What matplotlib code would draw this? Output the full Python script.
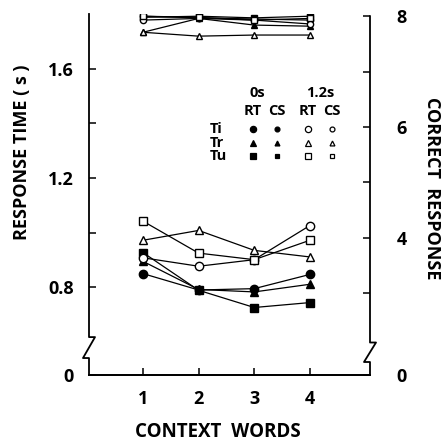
import matplotlib.pyplot as plt
import numpy as np

plt.rcParams['font.family'] = ['Open Sans', 'DejaVu Sans']
plt.rcParams['font.weight'] = 'bold'

# context words on the x axis
words = [1, 2, 3, 4]

# response time (s), left axis
rt_ti_0 = [0.85, 0.79, 0.795, 0.847]
rt_tr_0 = [0.895, 0.792, 0.783, 0.811]
rt_tu_0 = [0.927, 0.789, 0.726, 0.744]
rt_ti_12 = [0.908, 0.877, 0.901, 1.026]
rt_tr_12 = [0.972, 1.008, 0.935, 0.911]
rt_tu_12 = [1.042, 0.925, 0.901, 0.972]

# correct responses, right axis
cs_ti_0 = [8.0, 7.97, 7.95, 7.93]
cs_tr_0 = [7.71, 7.96, 7.84, 7.82]
cs_tu_0 = [7.98, 8.0, 7.97, 8.0]
cs_ti_12 = [7.93, 7.96, 7.93, 7.86]
cs_tr_12 = [7.71, 7.64, 7.66, 7.66]
cs_tu_12 = [8.0, 7.98, 7.93, 7.96]

W, H = 448, 445
fig = plt.figure(figsize=(W / 100, H / 100), dpi=100)
ax = fig.add_axes([89 / W, 1 - 375 / H, 281 / W, 361 / H])
ax2 = ax.twinx()

rt_series = [(rt_ti_0, 'o', 'k'), (rt_tr_0, '^', 'k'), (rt_tu_0, 's', 'k'),
             (rt_ti_12, 'o', 'w'), (rt_tr_12, '^', 'w'), (rt_tu_12, 's', 'w')]
cs_series = [(cs_ti_0, 'o', 'k'), (cs_tr_0, '^', 'k'), (cs_tu_0, 's', 'k'),
             (cs_ti_12, 'o', 'w'), (cs_tr_12, '^', 'w'), (cs_tu_12, 's', 'w')]

for vals, m, fc in rt_series:
    ax.plot(words, vals, color='k', lw=0.9, marker=m, ms=6, mfc=fc, mec='k', mew=1)
for vals, m, fc in cs_series:
    ax2.plot(words, vals, color='k', lw=0.9, marker=m, ms=4.5, mfc=fc, mec='k', mew=1)

ax.set_xlim(0.03, 5.08)
ax.set_ylim(0.479, 1.8)
ax2.set_ylim(1.52, 8.04)

ax.set_xticks(words)
ax.set_yticks([0.479, 0.8, 1.0, 1.2, 1.4, 1.6])
ax.set_yticklabels(['0', '0.8', '', '1.2', '', '1.6'])
ax2.set_yticks([1.52, 3, 4, 5, 6, 7, 8])
ax2.set_yticklabels(['0', '', '4', '', '6', '', '8'])

ax.tick_params(axis='both', direction='in', length=5, width=1.1, labelsize=13)
ax.tick_params(axis='y', pad=11)
ax.tick_params(axis='x', pad=11)
ax2.tick_params(axis='y', direction='in', length=5, width=1.1, labelsize=13, pad=19)

for a in (ax, ax2):
    for s in ('top', 'left', 'right'):
        a.spines[s].set_visible(False)
    a.spines['bottom'].set_linewidth(1.3)

# broken side axes drawn by hand
dx = 6 / 281
def side(x0, y_top, y_lo, y_hi, sgn):
    ax.plot([x0, x0, x0 + sgn * dx, x0 - sgn * dx, x0, x0],
            [y_top, y_hi, y_hi, y_lo, y_lo, 0],
            transform=ax.transAxes, color='k', lw=1.3, clip_on=False)

side(0, 1.0, 0.047, 0.105, 1)
side(1, 0.994, 0.036, 0.09, 1)

fig.text(22 / W, 1 - 152 / H, 'RESPONSE TIME ( s )', rotation=90,
         ha='center', va='center', fontsize=13, fontweight='bold')
fig.text(432 / W, 1 - 188 / H, 'CORRECT  RESPONSE', rotation=-90,
         ha='center', va='center', fontsize=13, fontweight='bold')
fig.text(218 / W, 1 - 432 / H, 'CONTEXT  WORDS', ha='center', va='center',
         fontsize=13.5, fontweight='bold')

# key
fs = 10.5
fig.text(257 / W, 1 - 93 / H, '0s', ha='center', va='center', fontsize=fs, fontweight='bold')
fig.text(320 / W, 1 - 93 / H, '1.2s', ha='center', va='center', fontsize=fs, fontweight='bold')
cols = [253, 277, 308, 332]
for x, t in zip(cols, ['RT', 'CS', 'RT', 'CS']):
    fig.text(x / W, 1 - 111 / H, t, ha='center', va='center', fontsize=fs, fontweight='bold')
rows = [('Ti', 'o', 129), ('Tr', '^', 143), ('Tu', 's', 156)]
for name, m, y in rows:
    fig.text(210 / W, 1 - y / H, name, ha='left', va='center', fontsize=fs, fontweight='bold')
    for x, fc, ms in zip(cols, ['k', 'k', 'w', 'w'], [4.5, 3.5, 4.5, 3.5]):
        ax.plot([x / W], [1 - y / H], marker=m, ms=ms, mfc=fc, mec='k', mew=0.9,
                transform=fig.transFigure, clip_on=False)

fig.savefig('out.png', dpi=100)
